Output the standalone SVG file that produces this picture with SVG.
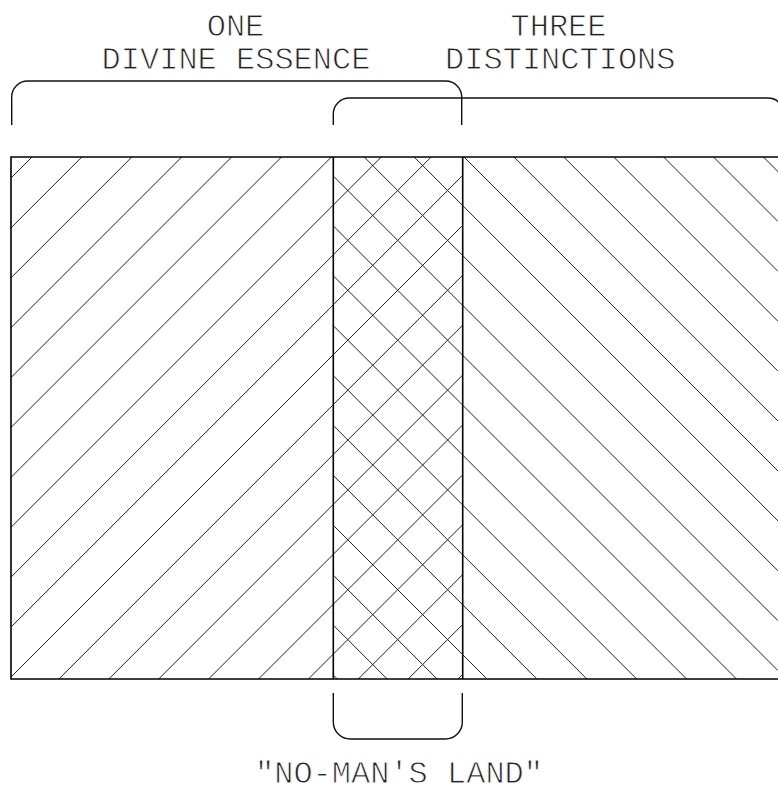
<svg xmlns="http://www.w3.org/2000/svg" width="778" height="785" viewBox="0 0 778 785">
<style>
.lbl{font-family:"Liberation Mono","DejaVu Sans Mono",monospace;font-size:32px;fill:#222;stroke:#fff;stroke-width:0.9px;text-anchor:middle}
.hatch{stroke:#222;stroke-width:1;fill:none}
.edge{stroke:#000;stroke-width:1.6;fill:none}
.brace{stroke:#111;stroke-width:1.4;fill:none}
</style>
<rect width="778" height="785" fill="#fff"/>
<g id="hatch-forward" class="hatch">
<path d="M11 178L32 157M11 227.9L81.9 157M11 277.8L131.8 157M11 327.7L181.7 157M11 377.6L231.6 157M11 427.5L281.5 157M11 477.4L331.4 157M11 527.3L381.3 157M11 577.2L431.2 157M11 627.1L462.7 175.4M11 677L462.7 225.3M58.9 679L462.7 275.2M108.8 679L462.7 325.1M158.7 679L462.7 375M208.6 679L462.7 424.9M258.5 679L462.7 474.8M308.4 679L462.7 524.7M358.3 679L462.7 574.6M408.2 679L462.7 624.5M458.1 679L462.7 674.4"/>
</g>
<g id="hatch-back" class="hatch">
<path d="M333.3 675L337.3 679M333.3 625.1L387.2 679M333.3 575.2L437.1 679M333.3 525.3L487 679M333.3 475.4L536.9 679M333.3 425.5L586.8 679M333.3 375.6L636.7 679M333.3 325.7L686.6 679M333.3 275.8L736.5 679M333.3 225.9L778 670.6M333.3 176L778 620.7M364.2 157L778 570.8M414.1 157L778 520.9M464 157L778 471M513.9 157L778 421.1M563.8 157L778 371.2M613.7 157L778 321.3M663.6 157L778 271.4M713.5 157L778 221.5M763.4 157L778 171.6"/>
</g>
<g id="frame" class="edge">
<path d="M779 157H11V679H779"/>
<path d="M333.3 157V679M462.7 157V679"/>
</g>
<g id="connectors">
<path id="brace-essence" class="brace" d="M11.7 125V97A16 16 0 0 1 27.7 81H445.7A16 16 0 0 1 461.7 97V125"/>
<path id="brace-distinctions" class="brace" d="M333.3 125V114A16 16 0 0 1 349.3 98H768A16 16 0 0 1 784 114V125"/>
<path id="brace-nomansland" class="brace" d="M333.3 693V722A17 17 0 0 0 350.3 739H445.3A17 17 0 0 0 462.3 722V693"/>
</g>
<g id="label-essence">
<text class="lbl" x="235.5" y="36">ONE</text>
<text class="lbl" x="236" y="69">DIVINE ESSENCE</text>
</g>
<g id="label-distinctions">
<text class="lbl" x="558.5" y="36">THREE</text>
<text class="lbl" x="560.3" y="69">DISTINCTIONS</text>
</g>
<g id="label-nomansland">
<text class="lbl" x="399" y="783">"NO-MAN'S LAND"</text>
</g>
</svg>
